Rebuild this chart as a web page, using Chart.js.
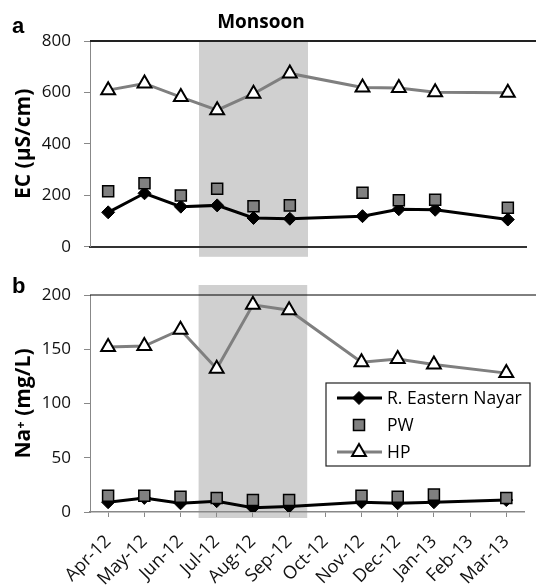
<!DOCTYPE html>
<html lang="en">
<head>
    <meta charset="UTF-8">
    <title>EC and Na+ – R. Eastern Nayar, PW, HP</title>
    <script src="https://cdn.jsdelivr.net/npm/chart.js"></script>
    <style>
        body { margin: 0; background: #fff; }
        #wrap { position: relative; width: 536px; height: 586px; overflow: hidden; }
        canvas { position: absolute; left: 0; }
        #ecChart { top: 0; }
        #naChart { top: 270px; }
        .panel { position: absolute; font: bold 22px "Liberation Sans", Arial, sans-serif; line-height: 22px; color: #000; }
        #monsoon { position: absolute; left: 161px; top: 12px; width: 200px; text-align: center;
                   font: bold 19px "Open Sans", sans-serif; line-height: 19px; color: #000; }
    </style>
</head>
<body>
<div id="wrap">
    <canvas id="ecChart" width="536" height="270"></canvas>
    <canvas id="naChart" width="536" height="316"></canvas>
    <div class="panel" style="left:12px; top:15px;">a</div>
    <div class="panel" style="left:12px; top:275px;">b</div>
    <div id="monsoon">Monsoon</div>
</div>

<script>
    // sampling months (Oct-12 and Feb-13 have no samples)
    var months = ['Apr-12', 'May-12', 'Jun-12', 'Jul-12', 'Aug-12', 'Sep-12',
                  'Oct-12', 'Nov-12', 'Dec-12', 'Jan-13', 'Feb-13', 'Mar-13'];
    var monsoonStart = 'Jul-12';
    var monsoonEnd = 'Sep-12';

    // panel a: EC (µS/cm)
    var ecNayar = [134, 208, 156, 161, 112, 109, null, 119, 146, 144, null, 106];
    var ecPW    = [216, 247, 199, 226, 158, 161, null, 210, 181, 183, null, 152];
    var ecHP    = [609, 635, 582, 531, 595, 674, null, 619, 617, 601, null, 599];
    var ecTicks = [0, 200, 400, 600, 800];

    // panel b: Na+ (mg/L)
    var naNayar = [9, 13, 8, 10, 4, 5, null, 9, 8, 9, null, 11];
    var naPW    = [15, 15, 14, 13, 11, 11, null, 15, 14, 16, null, 13];
    var naHP    = [152, 153, 168, 132, 191, 186, null, 138, 141, 136, null, 128];
    var naTicks = [0, 50, 100, 150, 200];

    var tickFont = { family: '"Open Sans", sans-serif', size: 17 };
    var monthFont = { family: '"Open Sans", sans-serif', size: 18 };
    var titleFont = { family: '"Open Sans", sans-serif', size: 21, weight: 'bold' };

    function makeDatasets(nayar, pw, hp) {
        return [
            { label: 'R. Eastern Nayar', data: nayar, order: 1, spanGaps: true,
              borderColor: '#000', borderWidth: 3, pointStyle: 'rectRot', pointRadius: 6.5,
              pointBackgroundColor: '#000', pointBorderColor: '#000', pointBorderWidth: 1 },
            { label: 'PW', data: pw, order: 0, showLine: false,
              pointStyle: 'rect', pointRadius: 7.8,
              pointBackgroundColor: '#808080', pointBorderColor: '#000', pointBorderWidth: 1.5 },
            { label: 'HP', data: hp, order: 2, spanGaps: true,
              borderColor: '#7f7f7f', borderWidth: 3, pointStyle: 'triangle', pointRadius: 8,
              pointBackgroundColor: '#fff', pointBorderColor: '#000', pointBorderWidth: 2 }
        ];
    }

    // grey band behind the monsoon months
    var monsoonShade = {
        id: 'monsoonShade',
        beforeDraw(chart, args, opts) {
            var x = chart.scales.x, area = chart.chartArea, ctx = chart.ctx;
            var half = (x.getPixelForValue(1) - x.getPixelForValue(0)) / 2;
            var left = x.getPixelForValue(months.indexOf(monsoonStart)) - half;
            var right = x.getPixelForValue(months.indexOf(monsoonEnd)) + half;
            ctx.save();
            ctx.fillStyle = '#d0d0d0';
            ctx.fillRect(left, area.top - opts.above, right - left,
                         area.bottom - area.top + opts.above + opts.below);
            ctx.restore();
        }
    };

    // horizontal rule along the top of each panel
    var topRule = {
        id: 'topRule',
        afterDraw(chart, args, opts) {
            var area = chart.chartArea, ctx = chart.ctx;
            ctx.save();
            ctx.strokeStyle = opts.color;
            ctx.lineWidth = opts.width;
            ctx.beginPath();
            ctx.moveTo(area.left, area.top);
            ctx.lineTo(chart.width, area.top);
            ctx.stroke();
            ctx.restore();
        }
    };

    function drawMarker(ctx, ds, x, y) {
        var r = ds.pointRadius;
        ctx.save();
        ctx.fillStyle = ds.pointBackgroundColor;
        ctx.strokeStyle = ds.pointBorderColor;
        ctx.lineWidth = ds.pointBorderWidth;
        ctx.beginPath();
        if (ds.pointStyle === 'rectRot') {
            ctx.moveTo(x - r, y); ctx.lineTo(x, y - r); ctx.lineTo(x + r, y); ctx.lineTo(x, y + r);
        } else if (ds.pointStyle === 'rect') {
            var s = r * Math.SQRT1_2;
            ctx.rect(x - s, y - s, 2 * s, 2 * s);
        } else {
            var a = -Math.PI / 2;
            for (var k = 0; k < 3; k++) {
                var px = x + Math.cos(a) * r, py = y + Math.sin(a) * r;
                if (k === 0) ctx.moveTo(px, py); else ctx.lineTo(px, py);
                a += 2 * Math.PI / 3;
            }
        }
        ctx.closePath();
        ctx.fill();
        ctx.stroke();
        ctx.restore();
    }

    // boxed legend inside panel b
    var boxLegend = {
        id: 'boxLegend',
        afterDraw(chart, args, opts) {
            var ctx = chart.ctx;
            var bx = opts.x, by = opts.y, bw = opts.w, bh = opts.h;
            ctx.save();
            ctx.fillStyle = '#fff';
            ctx.fillRect(bx, by, bw, bh);
            ctx.strokeStyle = '#222';
            ctx.lineWidth = 1.2;
            ctx.strokeRect(bx, by, bw, bh);
            ctx.font = '17.5px "Open Sans", sans-serif';
            ctx.textBaseline = 'middle';
            ctx.fillStyle = '#000';
            chart.data.datasets.forEach(function(ds, i) {
                var cy = by + 15 + i * 27;
                var mx = bx + 33;
                if (ds.showLine !== false) {
                    ctx.strokeStyle = ds.borderColor;
                    ctx.lineWidth = ds.borderWidth;
                    ctx.beginPath();
                    ctx.moveTo(bx + 11, cy);
                    ctx.lineTo(bx + 56, cy);
                    ctx.stroke();
                }
                drawMarker(ctx, ds, mx, cy);
                ctx.fillStyle = '#000';
                ctx.fillText(ds.label, bx + 61, cy + 1);
            });
            ctx.restore();
        }
    };

    function yScale(ticks, title) {
        return {
            min: ticks[0], max: ticks[ticks.length - 1],
            afterBuildTicks: function(s) { s.ticks = ticks.map(function(v) { return { value: v }; }); },
            afterFit: function(s) { s.width = 90; },
            ticks: { font: tickFont, color: '#111', padding: 13 },
            grid: { drawOnChartArea: false, tickLength: 6, color: '#888' },
            border: { color: '#888', width: 1 },
            title: { display: true, text: title, font: titleFont, color: '#000', padding: { top: 11 } }
        };
    }

    var ecChart = new Chart(document.getElementById('ecChart'), {
        type: 'line',
        data: { labels: months, datasets: makeDatasets(ecNayar, ecPW, ecHP) },
        plugins: [monsoonShade, topRule],
        options: {
            responsive: false,
            animation: false,
            layout: { padding: { top: 41, right: 2 } },
            plugins: {
                legend: { display: false },
                tooltip: { enabled: false },
                monsoonShade: { above: 0, below: 10 },
                topRule: { color: '#222', width: 2 }
            },
            scales: {
                x: {
                    offset: true,
                    afterFit: function(s) { s.height = 12; },
                    ticks: { display: false },
                    grid: { drawOnChartArea: false, drawTicks: false },
                    border: { color: '#333', width: 2 }
                },
                y: yScale(ecTicks, 'EC (µS/cm)')
            }
        }
    });

    var naChart = new Chart(document.getElementById('naChart'), {
        type: 'line',
        data: { labels: months, datasets: makeDatasets(naNayar, naPW, naHP) },
        plugins: [monsoonShade, topRule, boxLegend],
        options: {
            responsive: false,
            animation: false,
            layout: { padding: { top: 25, right: 2 } },
            plugins: {
                legend: { display: false },
                tooltip: { enabled: false },
                monsoonShade: { above: 10, below: 6 },
                topRule: { color: '#000', width: 1 },
                boxLegend: { x: 326, y: 113, w: 204, h: 83 }
            },
            scales: {
                x: {
                    offset: true,
                    afterFit: function(s) { s.height = 74; },
                    ticks: { font: monthFont, color: '#111', minRotation: 45, maxRotation: 45,
                             autoSkip: false, padding: 14 },
                    grid: { drawOnChartArea: false, tickLength: 5, color: '#888' },
                    border: { color: '#888', width: 1.5 }
                },
                y: yScale(naTicks, 'Na⁺ (mg/L)')
            }
        }
    });
</script>
</body>
</html>
